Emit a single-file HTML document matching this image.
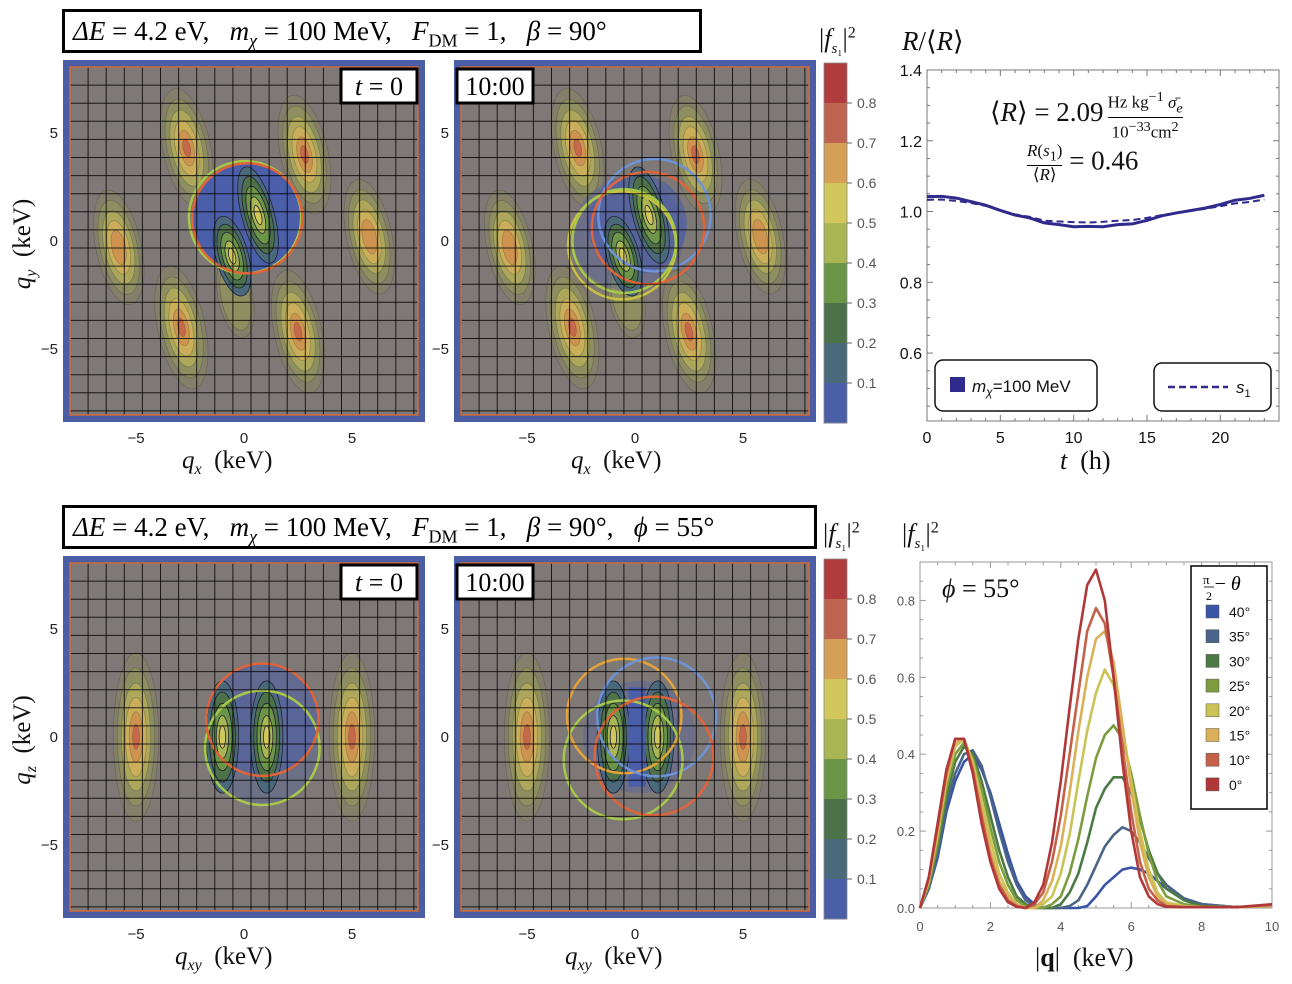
<!DOCTYPE html>
<html><head><meta charset="utf-8">
<style>
html,body{margin:0;padding:0;background:#fff;}
body{width:1292px;height:984px;position:relative;overflow:hidden;font-family:"Liberation Sans",sans-serif;}
.m{font-family:"Liberation Serif",serif;position:absolute;white-space:nowrap;color:#111;}
.tb{position:absolute;border:3px solid #000;box-sizing:border-box;font-family:"Liberation Serif",serif;font-size:27px;white-space:nowrap;padding-left:8px;background:#fff;}
svg{position:absolute;left:0;top:0;}
</style></head><body>
<svg id="fig" width="1292" height="984"></svg>

<div class="tb" style="left:62px;top:9px;width:640px;height:44px;line-height:38px;"><i>ΔE</i> = 4.2 eV, &nbsp; <i>m<sub style="font-size:18px">χ</sub></i> = 100 MeV, &nbsp; <i>F</i><sub style="font-size:18px">DM</sub> = 1, &nbsp; <i>β</i> = 90°</div>
<div class="tb" style="left:62px;top:505px;width:755px;height:44px;line-height:38px;"><i>ΔE</i> = 4.2 eV, &nbsp; <i>m<sub style="font-size:18px">χ</sub></i> = 100 MeV, &nbsp; <i>F</i><sub style="font-size:18px">DM</sub> = 1, &nbsp; <i>β</i> = 90°, &nbsp; <i>ϕ</i> = 55°</div>

<div class="m" style="left:819px;top:24px;font-size:26px;">|<i>f</i><sub style="font-size:15px"><i>s</i>₁</sub>|<sup style="font-size:16px">2</sup></div>
<div class="m" style="left:823px;top:519px;font-size:26px;">|<i>f</i><sub style="font-size:15px"><i>s</i>₁</sub>|<sup style="font-size:16px">2</sup></div>
<div class="m" style="left:902px;top:519px;font-size:26px;">|<i>f</i><sub style="font-size:15px"><i>s</i>₁</sub>|<sup style="font-size:16px">2</sup></div>
<div class="m" style="left:902px;top:26px;font-size:27px;"><i>R</i>/⟨<i>R</i>⟩</div>

<div class="m" style="left:182px;top:447px;font-size:25px;"><i>q<sub style="font-size:16px">x</sub></i> &nbsp;(keV)</div>
<div class="m" style="left:571px;top:447px;font-size:25px;"><i>q<sub style="font-size:16px">x</sub></i> &nbsp;(keV)</div>
<div class="m" style="left:175px;top:943px;font-size:25px;"><i>q<sub style="font-size:16px">xy</sub></i> &nbsp;(keV)</div>
<div class="m" style="left:565px;top:943px;font-size:25px;"><i>q<sub style="font-size:16px">xy</sub></i> &nbsp;(keV)</div>
<div class="m" style="left:1060px;top:446px;font-size:26px;"><i>t</i> &nbsp;(h)</div>
<div class="m" style="left:1035px;top:943px;font-size:26px;">|<b>q</b>| &nbsp;(keV)</div>
<div class="m" style="left:-20px;top:228px;font-size:25px;transform:rotate(-90deg);"><i>q<sub style="font-size:16px">y</sub></i> &nbsp;(keV)</div>
<div class="m" style="left:-20px;top:724px;font-size:25px;transform:rotate(-90deg);"><i>q<sub style="font-size:16px">z</sub></i> &nbsp;(keV)</div>

<div class="m" style="left:990px;top:88px;font-size:27px;">⟨<i>R</i>⟩ = 2.09<span style="display:inline-block;vertical-align:middle;text-align:center;font-size:17px;line-height:18px;margin-left:4px;"><span style="display:block;border-bottom:1px solid #000;">Hz kg<sup>−1</sup> <i>σ̄<sub>e</sub></i></span><span style="display:block;">10<sup>−33</sup>cm<sup>2</sup></span></span></div>
<div class="m" style="left:1027px;top:142px;font-size:27px;"><span style="display:inline-block;vertical-align:middle;text-align:center;font-size:17px;line-height:18px;"><span style="display:block;border-bottom:1px solid #000;"><i>R</i>(<i>s</i><sub>1</sub>)</span><span style="display:block;">⟨<i>R</i>⟩</span></span> = 0.46</div>
<div class="m" style="left:942px;top:574px;font-size:26px;"><i>ϕ</i> = 55°</div>

<script>
const NS="http://www.w3.org/2000/svg";
const fig=document.getElementById('fig');
function mk(tag,attrs,parent){const e=document.createElementNS(NS,tag);for(const k in attrs)e.setAttribute(k,attrs[k]);(parent||fig).appendChild(e);return e;}

/* ---------- data ---------- */
const rateHours=[0,1,2,3,4,5,6,7,8,9,10,11,12,13,14,15,16,17,18,19,20,21,22,23];
const rateTotal=[1.042,1.043,1.038,1.028,1.018,1.003,0.99,0.982,0.968,0.963,0.957,0.958,0.957,0.963,0.965,0.975,0.988,0.996,1.003,1.01,1.02,1.032,1.037,1.046];
const rateS1=[1.033,1.034,1.03,1.024,1.016,1.003,0.992,0.985,0.974,0.972,0.97,0.969,0.971,0.974,0.976,0.982,0.99,0.996,1.002,1.008,1.015,1.023,1.027,1.034];
const rateTicksY=[0.6,0.8,1.0,1.2,1.4];
const rateTicksX=[0,5,10,15,20];

const qGrid=[0,0.25,0.5,0.75,1,1.25,1.5,1.75,2,2.25,2.5,2.75,3,3.25,3.5,3.75,4,4.25,4.5,4.75,5,5.25,5.5,5.75,6,6.25,6.5,6.75,7,7.5,8,9,10];
const angleLabels=['40°','35°','30°','25°','20°','15°','10°','0°'];
const f40=[0,0.05,0.13,0.25,0.33,0.38,0.40,0.36,0.30,0.22,0.14,0.07,0.03,0.01,0,0,0,0,0,0.005,0.03,0.06,0.08,0.1,0.105,0.1,0.09,0.07,0.05,0.025,0.01,0.002,0.005];
const f35=[0,0.05,0.14,0.27,0.35,0.40,0.41,0.37,0.29,0.20,0.12,0.06,0.02,0.005,0,0,0,0.005,0.02,0.06,0.11,0.16,0.19,0.21,0.2,0.17,0.13,0.09,0.06,0.025,0.01,0.002,0.005];
const f30=[0,0.06,0.16,0.29,0.38,0.42,0.40,0.33,0.24,0.15,0.08,0.03,0.01,0,0,0,0.01,0.04,0.09,0.17,0.26,0.31,0.34,0.34,0.3,0.23,0.15,0.09,0.05,0.02,0.005,0.002,0.005];
const f25=[0,0.06,0.17,0.31,0.40,0.43,0.39,0.31,0.21,0.12,0.06,0.02,0.005,0,0,0.01,0.03,0.09,0.18,0.29,0.39,0.45,0.475,0.44,0.35,0.24,0.14,0.07,0.03,0.01,0.003,0.002,0.005];
const f20=[0,0.07,0.19,0.33,0.42,0.44,0.38,0.28,0.18,0.09,0.04,0.01,0,0,0.01,0.03,0.09,0.19,0.33,0.46,0.56,0.62,0.58,0.47,0.33,0.2,0.1,0.04,0.015,0.005,0.002,0.002,0.005];
const f15=[0,0.07,0.2,0.34,0.43,0.44,0.37,0.26,0.15,0.07,0.03,0.01,0,0,0.02,0.07,0.16,0.3,0.46,0.6,0.7,0.72,0.64,0.48,0.31,0.17,0.08,0.03,0.01,0.003,0.002,0.002,0.005];
const f10=[0,0.08,0.21,0.35,0.44,0.44,0.36,0.24,0.13,0.06,0.02,0.005,0,0.01,0.04,0.12,0.24,0.4,0.56,0.72,0.78,0.74,0.6,0.42,0.25,0.12,0.05,0.02,0.005,0.002,0.002,0.002,0.008];
const f0=[0,0.08,0.22,0.36,0.44,0.44,0.35,0.22,0.12,0.05,0.015,0.003,0,0.015,0.06,0.17,0.33,0.52,0.7,0.84,0.88,0.8,0.6,0.38,0.2,0.08,0.03,0.01,0.003,0.002,0.002,0.002,0.01];
const fSeries=[f40,f35,f30,f25,f20,f15,f10,f0];
const fColors=['#3b55a6','#4a6489','#4b7a45','#7d9c3f','#c9c455','#dbb058','#c5604a','#b03838'];
const fTicksY=[0,0.2,0.4,0.6,0.8];
const fTicksX=[0,2,4,6,8,10];
const cbLabels=[0.1,0.2,0.3,0.4,0.5,0.6,0.7,0.8];
const cbColors=['#b13c3d','#bf6450','#d59f55','#d2c75a','#a8b653','#6b9547','#4d7148','#4a6a7c','#4a5ea8'];

/* ---------- heatmap panels ---------- */
function panel(name,px,py,blobs,inner){
  const S=362, sc=21.6, cx=px+181, cy=py+181;
  const X=v=>cx+v*sc, Y=v=>cy-v*sc;
  const g=mk('g',{});
  
  
  mk('rect',{x:px,y:py,width:S,height:S,fill:'#4a5da5'},g);
  mk('rect',{x:px+7,y:py+7,width:S-14,height:S-14,fill:'#7e7976'},g);
  const cl='c'+name; const cp=mk('clipPath',{id:cl},g);
  mk('rect',{x:px+7,y:py+7,width:S-14,height:S-14},cp);
  const gc=mk('g',{'clip-path':'url(#'+cl+')'},g);
  const layers=[['#8c8b55',0.35,1],['#9ba455',0.45,0.82],['#c1b85a',0.6,0.64],['#d6b05a',0.7,0.47],['#d08a4e',0.75,0.3],['#c35e47',0.8,0.15]];
  blobs.forEach(b=>{
    const [bx,by,rx,ry,rot,lv]=b;
    layers.slice(0,lv).forEach(L=>{
      mk('ellipse',{cx:X(bx),cy:Y(by),rx:rx*sc*L[2],ry:ry*sc*L[2],fill:L[0],'fill-opacity':L[1],stroke:'#3c3c2c','stroke-opacity':0.3,'stroke-width':0.8,transform:`rotate(${rot} ${X(bx)} ${Y(by)})`},gc);
    });
  });
  inner(gc,X,Y,sc);
  for(let x=px+7;x<px+S;x+=18.1) mk('line',{x1:x,y1:py+7,x2:x,y2:py+S-7,stroke:'#000','stroke-width':1,'stroke-opacity':0.8},gc);
  for(let y=py+7;y<py+S;y+=18.1) mk('line',{x1:px+7,y1:y,x2:px+S-7,y2:y,stroke:'#000','stroke-width':1,'stroke-opacity':0.8},gc);
  mk('rect',{x:px+7,y:py+7,width:S-14,height:S-14,fill:'none',stroke:'#d2693a','stroke-width':1.5},g);
  [-5,0,5].forEach(v=>{
    const t=mk('text',{x:X(v),y:py+S+21,'font-size':15,'text-anchor':'middle',fill:'#222','font-family':'Liberation Sans'});t.textContent=(v<0?'−5':v);
    const t2=mk('text',{x:px-5,y:Y(v)+5,'font-size':15,'text-anchor':'end',fill:'#222','font-family':'Liberation Sans'});t2.textContent=(v<0?'−5':v);
  });
}
function disc(g,X,Y,sc,x,y,r,op){mk('circle',{cx:X(x),cy:Y(y),r:r*sc,fill:'#4a5eaa','fill-opacity':op},g);}
function ring(g,X,Y,sc,x,y,r,c){mk('circle',{cx:X(x),cy:Y(y),r:r*sc,fill:'none',stroke:c,'stroke-width':2.5},g);}
function lobe(g,X,Y,sc,x,y,rx,ry,rot){
  [['#4a6a7c',1],['#4d7148',0.8],['#6b9547',0.6],['#a8b653',0.38],['#d2c75a',0.2]].forEach(L=>{
    mk('ellipse',{cx:X(x),cy:Y(y),rx:rx*sc*L[1],ry:ry*sc*L[1],fill:L[0],stroke:'#223','stroke-width':0.8,transform:`rotate(${rot} ${X(x)} ${Y(y)})`},g);
  });
}
const topBlobs=[[-2.65,4.3,1.1,2.8,-12,6],[2.8,4.0,1.1,2.8,-12,6],[-2.9,-4.0,1.1,2.9,-12,6],[2.5,-4.2,1.1,2.9,-12,6],[-5.8,-0.3,1.05,2.7,-12,5],[5.8,0.2,1.05,2.7,-12,5],[-0.4,-2.6,0.8,1.9,-12,2]];
panel('heatmap-top-t0',63,60,topBlobs,(g,X,Y,sc)=>{
  disc(g,X,Y,sc,0.1,1.05,2.55,1);
  lobe(g,X,Y,sc,0.65,1.2,0.75,2.3,-15);
  lobe(g,X,Y,sc,-0.55,-0.7,0.75,1.9,-15);
  ring(g,X,Y,sc,0.05,1.1,2.6,'#a8c84a');
  ring(g,X,Y,sc,0.15,1.05,2.55,'#e0643a');
});
panel('heatmap-top-1000',454,60,topBlobs,(g,X,Y,sc)=>{
  disc(g,X,Y,sc,-0.3,0.3,2.6,0.35);
  disc(g,X,Y,sc,0.1,0.8,2.3,0.6);
  lobe(g,X,Y,sc,0.65,1.2,0.75,2.3,-15);
  lobe(g,X,Y,sc,-0.55,-0.7,0.75,1.9,-15);
  ring(g,X,Y,sc,0.9,1.2,2.6,'#6f93d8');
  ring(g,X,Y,sc,-0.6,-0.2,2.5,'#c8c040');
  ring(g,X,Y,sc,-0.5,0.0,2.4,'#a8c84a');
  ring(g,X,Y,sc,0.6,0.6,2.6,'#e0643a');
});
const botBlobs=[[-5,0,1.05,3.9,0,6],[5,0,1.05,3.9,0,6]];
panel('heatmap-bottom-t0',63,556,botBlobs,(g,X,Y,sc)=>{
  disc(g,X,Y,sc,0.85,0.8,2.6,0.55);
  disc(g,X,Y,sc,0.85,-0.5,2.6,0.3);
  lobe(g,X,Y,sc,-1.0,0,0.75,2.6,0);
  lobe(g,X,Y,sc,1.05,0,0.75,2.6,0);
  ring(g,X,Y,sc,0.85,-0.5,2.65,'#a8c84a');
  ring(g,X,Y,sc,0.85,0.8,2.6,'#e0643a');
});
panel('heatmap-bottom-1000',454,556,botBlobs,(g,X,Y,sc)=>{
  disc(g,X,Y,sc,0.2,0,2.6,0.35);
  lobe(g,X,Y,sc,-1.0,0,0.75,2.6,0);
  lobe(g,X,Y,sc,1.05,0,0.75,2.6,0);
  mk('rect',{x:X(-0.3),y:Y(2.3),width:0.8*sc,height:4.6*sc,fill:'#4a5eaa'},g);
  ring(g,X,Y,sc,-0.5,0.97,2.65,'#e3a33a');
  ring(g,X,Y,sc,1.0,0.93,2.75,'#6f93d8');
  ring(g,X,Y,sc,-0.55,-1.06,2.75,'#a8c84a');
  ring(g,X,Y,sc,0.88,-0.88,2.75,'#e0643a');
});

/* time labels */
function tag(x,y,w,txt,name){
  const g=mk('g',{});
  
  
  mk('rect',{x:x,y:y,width:w,height:34,fill:'#fff',stroke:'#000','stroke-width':3},g);
  const t=mk('text',{x:x+w/2,y:y+26,'font-size':26,'text-anchor':'middle','font-family':'Liberation Serif'},g);
  t.innerHTML=txt;
}
tag(341,69,76,'<tspan font-style="italic">t</tspan> = 0','time-label-t0-top');
tag(457,69,76,'10:00','time-label-1000-top');
tag(341,565,76,'<tspan font-style="italic">t</tspan> = 0','time-label-t0-bottom');
tag(457,565,76,'10:00','time-label-1000-bottom');

/* colorbars */
function colorbar(x,y,name){
  const g=mk('g',{});
  
  
  const h=40;
  cbColors.forEach((c,i)=>mk('rect',{x:x,y:y+i*h,width:23,height:h+0.5,fill:c},g));
  mk('rect',{x:x,y:y,width:23,height:h*cbColors.length,fill:'none',stroke:'#888','stroke-width':0.8},g);
  cbLabels.forEach(v=>{
    const ty=y+h*(cbColors.length-Math.round(v*10));
    mk('line',{x1:x+23,y1:ty,x2:x+28,y2:ty,stroke:'#666'},g);
    const t=mk('text',{x:x+33,y:ty+5,'font-size':14,fill:'#555','font-family':'Liberation Sans'},g);t.textContent=v.toFixed(1);
  });
}
colorbar(824,63,'colorbar-top');
colorbar(824,559,'colorbar-bottom');

/* ---------- rate chart ---------- */
(function(){
  const L=927,R=1279,T=70,B=421;
  const xs=v=>L+(v-0)/(24-0)*(R-L);
  const ys=v=>B-(v-0.408)/(1.4-0.408)*(B-T);
  const g=mk('g',{});
  
  
  mk('rect',{x:L,y:T,width:R-L,height:B-T,fill:'#fff',stroke:'#777','stroke-width':1},g);
  for(let v=0;v<=24;v+=1){const big=v%5==0;mk('line',{x1:xs(v),y1:B,x2:xs(v),y2:B-(big?6:3),stroke:'#777'},g);mk('line',{x1:xs(v),y1:T,x2:xs(v),y2:T+(big?6:3),stroke:'#777'},g);}
  for(let v=0.45;v<=1.4;v+=0.05){const big=Math.abs(v*10-Math.round(v*10))<0.01&&Math.round(v*10)%2==0;mk('line',{x1:L,y1:ys(v),x2:L+(big?6:3),y2:ys(v),stroke:'#777'},g);mk('line',{x1:R,y1:ys(v),x2:R-(big?6:3),y2:ys(v),stroke:'#777'},g);}
  rateTicksY.forEach(v=>{const t=mk('text',{x:L-5,y:ys(v)+6,'font-size':16,'text-anchor':'end',fill:'#111'},g);t.textContent=v.toFixed(1);});
  rateTicksX.forEach(v=>{const t=mk('text',{x:xs(v),y:B+22,'font-size':16,'text-anchor':'middle',fill:'#111'},g);t.textContent=v;});
  const p1=mk('polyline',{points:rateHours.map((h,i)=>xs(h)+','+ys(rateTotal[i])).join(' '),fill:'none',stroke:'#2f2a8c','stroke-width':3},g);
  
  
  const p2=mk('polyline',{points:rateHours.map((h,i)=>xs(h)+','+ys(rateS1[i])).join(' '),fill:'none',stroke:'#2f2a8c','stroke-width':2,'stroke-dasharray':'7,4'},g);
  
  
  const l1=mk('g',{},g);
  
  
  mk('rect',{x:935,y:360,width:162,height:51,rx:8,fill:'#fff',stroke:'#111','stroke-width':1.5},l1);
  mk('rect',{x:950,y:377,width:15,height:15,fill:'#2f2a8c'},l1);
  const t1=mk('text',{x:972,y:392,'font-size':17,fill:'#111'},l1);t1.innerHTML='<tspan font-style="italic">m</tspan><tspan font-style="italic" font-size="12" dy="4">χ</tspan><tspan dy="-4">=100 MeV</tspan>';
  const l2=mk('g',{},g);
  
  
  mk('rect',{x:1154,y:363,width:117,height:48,rx:8,fill:'#fff',stroke:'#111','stroke-width':1.5},l2);
  mk('line',{x1:1168,y1:387,x2:1228,y2:387,stroke:'#2f2a8c','stroke-width':2.5,'stroke-dasharray':'7,4'},l2);
  const t2=mk('text',{x:1236,y:393,'font-size':17,fill:'#111'},l2);t2.innerHTML='<tspan font-style="italic">s</tspan><tspan font-size="11" dy="4">1</tspan>';
})();

/* ---------- |f|^2 chart ---------- */
(function(){
  const L=920,R=1272,T=562,B=908;
  const xs=v=>L+v/10*(R-L);
  const ys=v=>B-v/0.9*(B-T);
  const g=mk('g',{});
  
  
  mk('rect',{x:L,y:T,width:R-L,height:B-T,fill:'#fff',stroke:'#999','stroke-width':1},g);
  for(let v=0;v<=10;v+=0.5){const big=v%2==0;mk('line',{x1:xs(v),y1:B,x2:xs(v),y2:B-(big?6:3),stroke:'#999'},g);mk('line',{x1:xs(v),y1:T,x2:xs(v),y2:T+(big?6:3),stroke:'#999'},g);}
  for(let i=0;i<=17;i++){const v=i*0.05;const big=i%4==0;mk('line',{x1:L,y1:ys(v),x2:L+(big?6:3),y2:ys(v),stroke:'#999'},g);mk('line',{x1:R,y1:ys(v),x2:R-(big?6:3),y2:ys(v),stroke:'#999'},g);}
  fTicksY.forEach(v=>{const t=mk('text',{x:L-5,y:ys(v)+5,'font-size':13,'text-anchor':'end',fill:'#555'},g);t.textContent=v.toFixed(1);});
  fTicksX.forEach(v=>{const t=mk('text',{x:xs(v),y:B+23,'font-size':13,'text-anchor':'middle',fill:'#555'},g);t.textContent=v;});
  fSeries.forEach((s,k)=>{
    const p=mk('polyline',{points:qGrid.map((q,i)=>xs(q)+','+ys(s[i])).join(' '),fill:'none',stroke:fColors[k],'stroke-width':2.6,'stroke-linejoin':'round'},g);
    
    
  });
  const lg=mk('g',{},g);
  
  
  mk('rect',{x:1191,y:566,width:76,height:243,fill:'#fff',stroke:'#000','stroke-width':1.5},lg);
  const tt=mk('text',{x:1203,y:590,'font-size':20,'font-family':'Liberation Serif'},lg);
  tt.innerHTML='<tspan font-size="13" dy="-6">π</tspan><tspan font-size="20" dy="6"> − </tspan><tspan font-style="italic">θ</tspan>';
  mk('line',{x1:1204,y1:587,x2:1214,y2:587,stroke:'#000','stroke-width':0.8},lg);
  const t2=mk('text',{x:1206,y:600,'font-size':12,'font-family':'Liberation Serif'},lg);t2.textContent='2';
  angleLabels.forEach((a,k)=>{
    const y=605+k*24.7;
    const e=mk('g',{},lg);
    
    
    mk('rect',{x:1206,y:y,width:13,height:13,fill:fColors[k],stroke:'#555','stroke-width':0.5},e);
    const t=mk('text',{x:1229,y:y+12,'font-size':14,fill:'#111'},e);t.textContent=a;
  });
})();
</script>
</body></html>
